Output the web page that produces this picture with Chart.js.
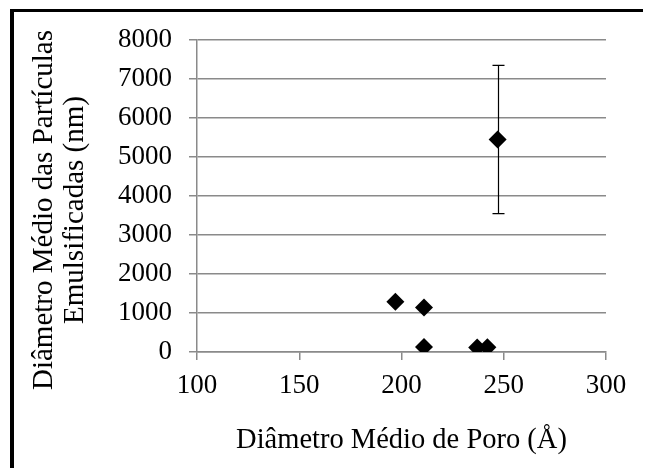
<!DOCTYPE html>
<html>
<head>
<meta charset="utf-8">
<script src="https://cdn.jsdelivr.net/npm/chart.js@4.4.1/dist/chart.umd.min.js"></script>
<style>
  html, body { margin: 0; padding: 0; background: #fff; }
  #wrap { width: 646px; height: 468px; position: relative; }
</style>
</head>
<body>
<div id="wrap"><canvas id="c" width="646" height="468"></canvas></div>
<script>
// Mean pore diameter (Å) vs. mean diameter of the emulsified particles (nm)
const poreDiameter     = [197, 211, 211, 237, 242, 247];
const particleDiameter = [1290, 1140, 130, 115, 120, 5450];
const particleError    = [null, null, null, null, null, 1900];

const xTicks = [100, 150, 200, 250, 300];
const yTicks = [0, 1000, 2000, 3000, 4000, 5000, 6000, 7000, 8000];

const xTitle = 'Diâmetro Médio de Poro (Å)';
const yTitle = ['Diâmetro Médio das Partículas', 'Emulsificadas (nm)'];

const serif = '"Liberation Serif", "Times New Roman", serif';
const gridGrey = '#8a8a8a';

// Vertical error bars with end caps, positioned through the chart scales
const errorBars = {
  id: 'errorBars',
  afterDatasetsDraw(chart) {
    const { ctx, scales: { x, y } } = chart;
    ctx.save();
    ctx.strokeStyle = '#000';
    ctx.lineWidth = 1.2;
    const cap = 6;
    poreDiameter.forEach((px, i) => {
      const err = particleError[i];
      if (err == null) return;
      const cx = Math.round(x.getPixelForValue(px)) + 0.5;
      const top = y.getPixelForValue(particleDiameter[i] + err);
      const bot = y.getPixelForValue(particleDiameter[i] - err);
      ctx.beginPath();
      ctx.moveTo(cx, top); ctx.lineTo(cx, bot);
      ctx.moveTo(cx - cap, top); ctx.lineTo(cx + cap, top);
      ctx.moveTo(cx - cap, bot); ctx.lineTo(cx + cap, bot);
      ctx.stroke();
    });
    ctx.restore();
  }
};

// Two-line rotated title for the value axis
const yAxisTitle = {
  id: 'yAxisTitle',
  afterDraw(chart) {
    const ctx = chart.ctx;
    ctx.save();
    ctx.fillStyle = '#000';
    ctx.font = '29px ' + serif;
    ctx.textAlign = 'center';
    ctx.textBaseline = 'middle';
    ctx.translate(44, 210);
    ctx.rotate(-Math.PI / 2);
    yTitle.forEach((line, i) => ctx.fillText(line, 0, i * 31));
    ctx.restore();
  }
};

// Black frame along the top and left edges of the figure
const frame = {
  id: 'frame',
  afterDraw(chart) {
    const ctx = chart.ctx;
    ctx.save();
    ctx.fillStyle = '#000';
    ctx.fillRect(10, 9, 633, 3);
    ctx.fillRect(10, 9, 4, 468);
    ctx.restore();
  }
};

new Chart(document.getElementById('c'), {
  type: 'scatter',
  data: {
    datasets: [{
      data: poreDiameter.map((v, i) => ({ x: v, y: particleDiameter[i] })),
      pointStyle: 'rectRot',
      pointRadius: 9,
      pointHoverRadius: 9,
      backgroundColor: '#000',
      borderColor: '#000',
      borderWidth: 0
    }]
  },
  options: {
    responsive: false,
    devicePixelRatio: 1,
    animation: false,
    events: [],
    layout: { padding: { left: 0, top: 40, right: 40, bottom: 0 } },
    plugins: { legend: { display: false }, tooltip: { enabled: false } },
    scales: {
      x: {
        type: 'linear',
        min: 100, max: 300,
        afterFit(s) { s.height = 116; },
        afterBuildTicks(s) { s.ticks = xTicks.map(v => ({ value: v })); },
        border: { display: true, color: gridGrey, width: 1.5 },
        grid: { drawOnChartArea: false, drawTicks: true, tickLength: 8, color: gridGrey, lineWidth: 1.5 },
        ticks: { color: '#000', padding: 10, font: { family: serif, size: 27 }, callback: v => String(v) },
        title: {
          display: true, text: xTitle, color: '#000',
          font: { family: serif, size: 28.5 },
          padding: { top: 0, bottom: 10 }
        }
      },
      y: {
        type: 'linear',
        min: 0, max: 8000,
        afterFit(s) { s.width = 197; },
        afterBuildTicks(s) { s.ticks = yTicks.map(v => ({ value: v })); },
        border: { display: true, color: gridGrey, width: 1.5 },
        grid: { drawTicks: true, tickLength: 8, color: gridGrey, lineWidth: 1.5 },
        ticks: { color: '#000', padding: 17, font: { family: serif, size: 27 }, callback: v => String(v) },
        title: { display: false }
      }
    }
  },
  plugins: [errorBars, yAxisTitle, frame]
});
</script>
</body>
</html>
